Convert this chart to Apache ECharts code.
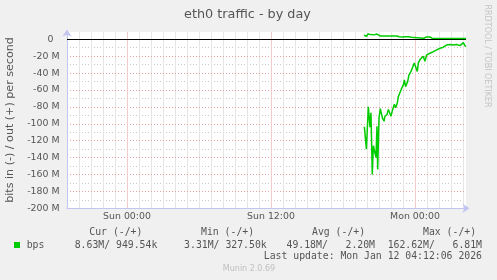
<!DOCTYPE html>
<html><head><meta charset="utf-8">
<script src="https://cdn.jsdelivr.net/npm/echarts@6/dist/echarts.min.js"></script>
<style>html,body{margin:0;padding:0;background:#f0f0f0}#c{width:497px;height:280px}</style>
</head><body><div id="c"></div>
<script>
// hours relative to Sun 00:00; values in Mbit/s (in = negative)
const inHours = [19.78,19.9,19.95,20.11,20.25,20.33,20.44,20.53,20.67,20.75,20.83,20.89,21.0,21.11,21.28,21.42,21.5,21.67,21.78,21.89,22.0,22.14,22.28,22.39,22.53,22.61,22.75,22.89,23.03,23.11,23.22,23.39,23.5,23.67,23.78,23.94,24.06,24.19,24.28,24.42,24.56,24.69,24.83,24.97,25.11,25.25,25.39,25.53,25.67,25.81,25.94,26.08,26.22,26.36,26.5,26.64,26.78,26.92,27.06,27.19,27.33,27.47,27.61,27.75,27.89,28.03,28.17,28.25];
const inValues = [-103.5,-104.5,-130,-80,-104,-87,-160,-126,-128,-140,-103,-154,-93,-82,-93,-97,-91,-89,-83,-85,-91,-83,-77,-81,-75,-68,-66,-58,-54,-48,-56,-50,-42,-38,-34,-28,-26,-38,-28,-24,-26,-20,-26,-18.5,-20,-16.5,-18.5,-14.6,-15.7,-12.6,-11.8,-10.6,-8.6,-9.4,-7.9,-6.7,-7.5,-6.3,-7,-6.7,-7.5,-6.3,-6.7,-7.5,-5.9,-4,-7.9,-8.6];
const outHours = [19.75,19.88,19.96,20.08,20.21,20.33,20.46,20.58,20.71,20.83,20.96,21.08,22.5,22.67,22.83,23.0,23.17,23.33,23.5,23.67,23.83,24.75,24.92,25.08,25.25,25.42,28.25];
const outValues = [4.7,5.5,3.5,6.3,4.5,5.5,3.3,5.2,4.2,6.2,4.4,3.9,3.9,3.0,3.6,2.6,3.1,2.5,3.0,2.5,1.3,1.2,2.6,2.2,2.7,1.3,1.0];
const zeroRule = 0;
const xTickHours = [0, 12, 24];
const xTickLabels = ['Sun 00:00', 'Sun 12:00', 'Mon 00:00'];
const xMinorHours = [-4,-3,-2,-1,1,2,3,4,5,6,7,8,9,10,11,13,14,15,16,17,18,19,20,21,22,23,25,26,27,28];
const yTickValues = [-200, -180, -160, -140, -120, -100, -80, -60, -40, -20, 0];
const yMinorValues = [-190, -170, -150, -130, -110, -90, -70, -50, -30, -10];
const legendHeaders = ['Cur (-/+)', 'Min (-/+)', 'Avg (-/+)', 'Max (-/+)'];
const legendValues = ['8.63M/ 949.54k', '3.31M/ 327.50k', '49.18M/   2.20M', '162.62M/   6.81M'];
const seriesName = 'bps';
const titleText = 'eth0 traffic - by day';
const yAxisTitle = 'bits in (-) / out (+) per second';
const lastUpdate = 'Last update: Mon Jan 12 04:12:06 2026';
const watermark = 'RRDTOOL / TOBI OETIKER';
const footer = 'Munin 2.0.69';

const GREEN = '#00cc00', AXIS = '#c4c4f2', MINOR = '#c8c8c8', MAJOR = '#e6a0a0', TXT = '#555555';
const VMINOR = '#e6e6e6', VMAJOR = '#f2caca';
const SANS = 'DejaVu Sans', MONO = 'DejaVu Sans Mono';
const X_MIN = -5, X_MAX = 28.25, Y_MIN = -200, Y_MAX = 8.6;

function txt(text, x, y, size, color, align, family, rot) {
  return { type: 'text', x: x, y: y, rotation: rot || 0, silent: true,
    style: { text: text, fill: color, font: size + 'px "' + (family || SANS) + '"',
      align: align || 'left', textAlign: align || 'left', verticalAlign: 'middle', textVerticalAlign: 'middle' } };
}

const chart = echarts.init(document.getElementById('c'), null, { renderer: 'canvas' });
const graphics = [
  txt(titleText, 247.5, 14.5, 12.8, TXT, 'center'),
  txt(yAxisTitle, 10.5, 120, 11.1, TXT, 'center', SANS, Math.PI / 2),
  txt(watermark, 487.5, 56, 8, '#c4c4c4', 'center', SANS, -Math.PI / 2),
  { type: 'rect', shape: { x: 14, y: 242, width: 6, height: 6 }, style: { fill: GREEN }, silent: true },
  txt(seriesName, 26.7, 245.2, 9.8, TXT, 'left', MONO),
  txt(lastUpdate, 482, 256.9, 9.8, TXT, 'right', MONO),
  txt(footer, 249, 269, 8, '#c0c0c0', 'center')
];
const headerX = [89.3, 201, 312, 423];
const valueRight = [157.3, 266.7, 375, 482];
legendHeaders.forEach((h, i) => graphics.push(txt(h, headerX[i], 232.8, 9.8, TXT, 'left', MONO)));
legendValues.forEach((v, i) => graphics.push(txt(v, valueRight[i], 245.2, 9.8, TXT, 'right', MONO)));

const dotted = c => ({ color: c, type: [1, 2], width: 1 });
const solid = c => ({ color: c, type: 'solid', width: 1 });
chart.setOption({
  backgroundColor: '#f0f0f0',
  animation: false,
  grid: { left: 67, right: 31, top: 32, bottom: 71.7, show: true, backgroundColor: '#ffffff', borderWidth: 0, containLabel: false, outerBoundsMode: 'none' },
  xAxis: [{
    type: 'value', min: X_MIN, max: X_MAX, position: 'bottom', z: 2,
    axisLine: { show: false, onZero: false },
    axisTick: { show: false, customValues: xMinorHours }, axisLabel: { show: false, customValues: xMinorHours },
    splitLine: { show: true, lineStyle: solid(VMINOR) }
  }, {
    type: 'value', min: X_MIN, max: X_MAX, position: 'bottom', z: 3,
    axisLine: { show: true, onZero: false, lineStyle: { color: AXIS, width: 1 }, symbol: ['none', 'arrow'], symbolSize: [7, 7], symbolOffset: [0, 3.5] },
    axisTick: { show: false, customValues: xTickHours },
    axisLabel: { show: true, customValues: xTickHours, margin: 4, color: TXT, fontFamily: SANS, fontSize: 9.4,
      formatter: v => { const k = xTickHours.indexOf(v); return k >= 0 ? xTickLabels[k] : ''; } },
    splitLine: { show: true, lineStyle: solid(VMAJOR) }
  }],
  yAxis: [{
    type: 'value', min: Y_MIN, max: Y_MAX, position: 'left', z: 2,
    axisLine: { show: false, onZero: false },
    axisTick: { show: false, customValues: yMinorValues }, axisLabel: { show: false, customValues: yMinorValues },
    splitLine: { show: true, lineStyle: dotted(MINOR) }
  }, {
    type: 'value', min: Y_MIN, max: Y_MAX, position: 'left', z: 3,
    axisLine: { show: true, onZero: false, lineStyle: { color: AXIS, width: 1 }, symbol: ['none', 'arrow'], symbolSize: [7, 7], symbolOffset: [0, 2.5] },
    axisTick: { show: false, customValues: yTickValues },
    axisLabel: { show: true, customValues: yTickValues, margin: 7.5, color: TXT, fontFamily: SANS, fontSize: 9.4,
      formatter: v => (v === 0 ? '{z|0}' : v + ' M'),
      rich: { z: { color: TXT, fontFamily: SANS, fontSize: 9.4, padding: [0, 6, 0, 0] } } },
    splitLine: { show: true, lineStyle: dotted(MAJOR) }
  }],
  series: [
    { type: 'line', name: seriesName + ' in', xAxisIndex: 1, yAxisIndex: 1, data: inHours.map((h, i) => [h, inValues[i]]), showSymbol: false, symbol: 'none',
      lineStyle: { color: GREEN, width: 1.5 }, silent: true, z: 5 },
    { type: 'line', name: seriesName + ' out', xAxisIndex: 1, yAxisIndex: 1, data: outHours.map((h, i) => [h, outValues[i]]), showSymbol: false, symbol: 'none',
      lineStyle: { color: GREEN, width: 1.5 }, silent: true, z: 5,
      markLine: { silent: true, symbol: ['none', 'none'], label: { show: false }, lineStyle: { color: '#000000', type: 'solid', width: 1 },
        data: [{ yAxis: zeroRule }], animation: false } }
  ],
  graphic: graphics
});
</script></body></html>
